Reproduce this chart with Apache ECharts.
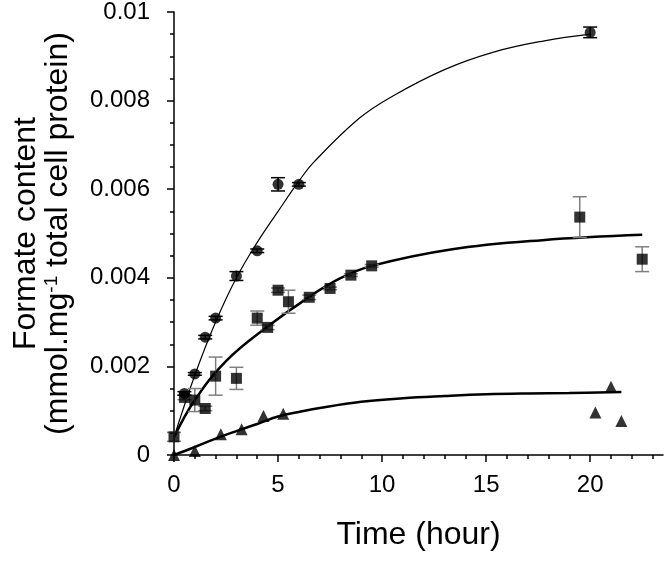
<!DOCTYPE html>
<html>
<head>
<meta charset="utf-8">
<script src="https://cdn.jsdelivr.net/npm/echarts@6/dist/echarts.min.js"></script>
<style>html,body{margin:0;padding:0;background:#fff}#c{width:664px;height:562px}</style>
</head>
<body>
<div id="c"></div>
<script>
// ---- data ----
const circleX = [0.5, 1, 1.5, 2, 3, 4, 5, 6, 20];
const circleY = [0.00139, 0.00183, 0.00266, 0.00309, 0.00404, 0.00461, 0.00611, 0.00611, 0.00954];
const circleErr = [0.00004, 0.00003, 0.00004, 0.00004, 0.0001, 0.00004, 0.00015, 0.00004, 0.00012];

const squareX = [0, 0.5, 1, 1.5, 2, 3, 4, 4.5, 5, 5.5, 6.5, 7.5, 8.5, 9.5, 19.5, 22.5];
const squareY = [0.00041, 0.0013, 0.00124, 0.00105, 0.00178, 0.00173, 0.00309, 0.00288, 0.00372, 0.00346, 0.00356, 0.00376, 0.00406, 0.00427, 0.00537, 0.00442];
const squareErr = [0.0001, 0.00005, 0.00026, 0.00005, 0.00043, 0.00025, 0.00016, 0.00005, 0.00005, 0.00026, 0.00005, 0.00003, 0.00003, 0.00003, 0.00046, 0.00028];

const triX = [0, 1, 2.25, 3.25, 4.3, 5.25, 20.25, 21, 21.5];
const triY = [0, 0.00009, 0.00047, 0.00058, 0.00088, 0.00093, 0.00096, 0.00154, 0.00077];

const circleFitX = [0, 1, 2, 3, 4, 5, 6, 6.7, 8.9, 10.5, 13, 15.4, 17.8, 20];
const circleFitY = [0.0004, 0.0018, 0.003, 0.004, 0.0048, 0.0055, 0.00618, 0.0066, 0.0076, 0.0081, 0.0087, 0.0091, 0.00935, 0.0095];

const squareFitX = [0, 1, 2.5, 4.5, 6.5, 8, 9.5, 13.3, 17.7, 22.5];
const squareFitY = [0.0004, 0.00124, 0.00212, 0.0029, 0.00357, 0.00399, 0.00427, 0.00464, 0.00485, 0.00497];

const triFitX = [0, 1, 2, 3, 4, 5, 6, 7, 9, 11, 13, 15, 17, 19, 21.5];
const triFitY = [0, 0.00018, 0.00037, 0.00054, 0.0007, 0.00087, 0.00097, 0.00106, 0.0012, 0.00128, 0.00133, 0.00137, 0.00139, 0.0014, 0.00142];

const xMajorTicks = [0, 5, 10, 15, 20];
const xMinorTicks = [1, 2, 3, 4, 6, 7, 8, 9, 11, 12, 13, 14, 16, 17, 18, 19, 21, 22, 23];
const xTitle = 'Time (hour)';
const yTitle1 = 'Formate content';
const yTitle2 = '(mmol.mg{sup|-1} total cell protein)';

// ---- build ----
const zip = (xs, ys) => xs.map((x, i) => [x, ys[i]]);
const zip3 = (xs, ys, es) => xs.map((x, i) => [x, ys[i], es[i]]);
const FONT = 'Liberation Sans, Arial, sans-serif';

function errRender(color, capW, lw) {
  return function (params, api) {
    const x = api.value(0), y = api.value(1), e = api.value(2);
    const top = api.coord([x, y + e]);
    const bot = api.coord([x, y - e]);
    const st = { stroke: color, lineWidth: lw };
    return {
      type: 'group',
      children: [
        { type: 'line', shape: { x1: top[0], y1: top[1], x2: bot[0], y2: bot[1] }, style: st },
        { type: 'line', shape: { x1: top[0] - capW / 2, y1: top[1], x2: top[0] + capW / 2, y2: top[1] }, style: st },
        { type: 'line', shape: { x1: bot[0] - capW / 2, y1: bot[1], x2: bot[0] + capW / 2, y2: bot[1] }, style: st }
      ]
    };
  };
}

const chart = echarts.init(document.getElementById('c'), null, { renderer: 'canvas' });
chart.setOption({
  animation: false,
  backgroundColor: '#fff',
  grid: { left: 174, top: 12, width: 489, height: 443 },
  xAxis: [
    {
      type: 'value', min: 0, max: 23.5,
      name: xTitle, nameLocation: 'middle', nameGap: 64,
      nameTextStyle: { fontSize: 32, fontFamily: FONT, color: '#000' },
      axisLine: { show: true, lineStyle: { color: '#000', width: 1.5 } },
      axisTick: { show: true, length: 7, customValues: xMajorTicks, lineStyle: { color: '#000', width: 1.5 } },
      axisLabel: { customValues: xMajorTicks, fontSize: 24, fontFamily: FONT, color: '#000', margin: 18 },
      splitLine: { show: false }
    },
    {
      type: 'value', min: 0, max: 23.5, position: 'bottom',
      axisLine: { show: false },
      axisTick: { show: true, length: 4, customValues: xMinorTicks, lineStyle: { color: '#000', width: 1.5 } },
      axisLabel: { show: false },
      splitLine: { show: false }
    }
  ],
  yAxis: {
    type: 'value', min: 0, max: 0.01, interval: 0.002,
    name: yTitle1 + '\n' + yTitle2, nameLocation: 'middle', nameGap: 100, nameRotate: 90,
    nameTextStyle: {
      fontSize: 32, fontFamily: FONT, color: '#000', lineHeight: 32,
      rich: { sup: { fontSize: 19, fontFamily: FONT, color: '#000', verticalAlign: 'top', lineHeight: 32 } }
    },
    axisLine: { show: true, lineStyle: { color: '#000', width: 1.5 } },
    axisTick: { show: true, length: 7, lineStyle: { color: '#000', width: 1.5 } },
    minorTick: { show: true, splitNumber: 4, length: 4, lineStyle: { color: '#000', width: 1.5 } },
    axisLabel: { fontSize: 24, fontFamily: FONT, color: '#000', margin: 24 },
    splitLine: { show: false }
  },
  series: [
    { type: 'line', data: zip(circleFitX, circleFitY), smooth: 0.4, showSymbol: false,
      lineStyle: { color: '#000', width: 1.2 }, z: 1 },
    { type: 'line', data: zip(squareFitX, squareFitY), smooth: 0.4, showSymbol: false,
      lineStyle: { color: '#000', width: 2.5 }, z: 1 },
    { type: 'line', data: zip(triFitX, triFitY), smooth: 0.4, showSymbol: false,
      lineStyle: { color: '#000', width: 2.5 }, z: 1 },
    { type: 'custom', data: zip3(squareX, squareY, squareErr), renderItem: errRender('#7f7f7f', 14, 1.5), z: 2 },
    { type: 'custom', data: zip3(circleX, circleY, circleErr), renderItem: errRender('#000', 14, 1.5), z: 2 },
    { type: 'scatter', data: zip(circleX, circleY), symbol: 'circle', symbolSize: 11,
      itemStyle: { color: '#000' }, z: 3 },
    { type: 'scatter', data: zip(squareX, squareY), symbol: 'rect', symbolSize: 11,
      itemStyle: { color: '#000' }, z: 3 },
    { type: 'scatter', data: zip(triX, triY), symbol: 'triangle', symbolSize: 12,
      itemStyle: { color: '#000' }, z: 3 }
  ]
});
</script>
</body>
</html>
